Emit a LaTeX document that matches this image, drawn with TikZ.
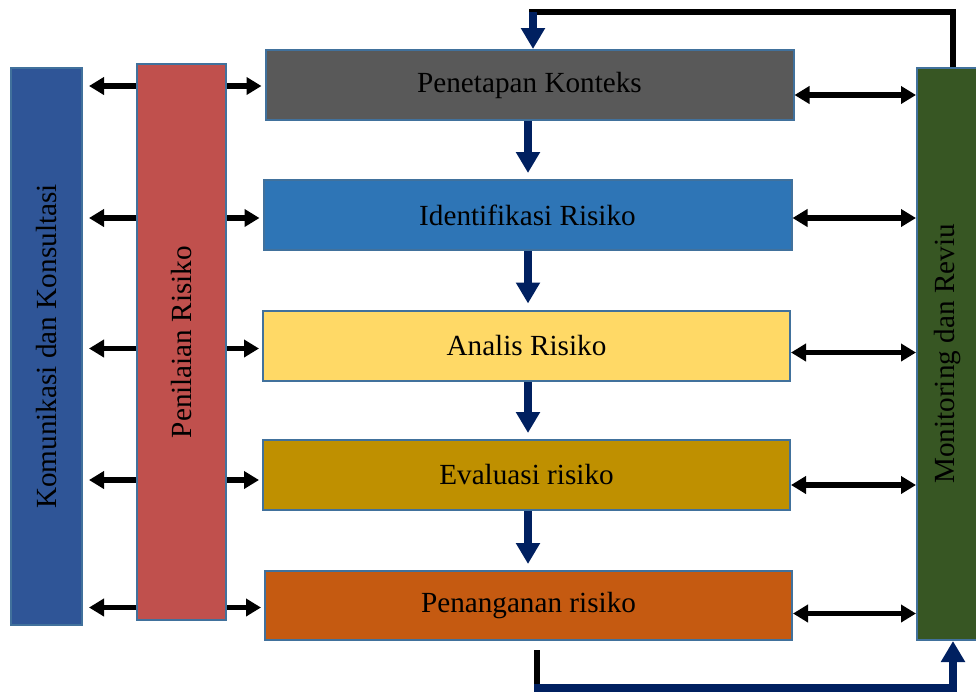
\documentclass[tikz,border=0pt]{standalone}
\usepackage{fontspec}
\setmainfont{Liberation Serif}
\usetikzlibrary{arrows.meta}

\definecolor{komblue}{HTML}{2F5597}
\definecolor{penred}{HTML}{C0504D}
\definecolor{ctxgray}{HTML}{595959}
\definecolor{idfblue}{HTML}{2E75B6}
\definecolor{anayellow}{HTML}{FFD966}
\definecolor{evagold}{HTML}{BF9000}
\definecolor{pnnorange}{HTML}{C55A11}
\definecolor{mongreen}{HTML}{375623}
\definecolor{navy}{HTML}{002060}
\definecolor{edgeblue}{HTML}{41719C}

\tikzset{
  stage/.style={draw=edgeblue, line width=1pt, minimum width=264pt, minimum height=35pt,
    inner sep=0pt, font=\fontsize{14.6}{17}\selectfont},
  pillar/.style={draw=edgeblue, line width=1pt, rotate=90, inner sep=0pt,
    font=\fontsize{14.6}{17}\selectfont},
  twoway/.style={line width=2.8pt, -{Triangle[width=8.5pt,length=7.5pt]}},
  flow/.style={navy, line width=4pt, -{Triangle[width=11.5pt,length=10.5pt]}},
  loopline/.style={line width=3pt}
}

\begin{document}
\begin{tikzpicture}[x=0.5pt,y=-0.5pt]
\useasboundingbox (0,0) rectangle (976,692);

      % side pillars
      \node[pillar, fill=komblue, minimum width=278.5pt, minimum height=35.5pt] (kom) at (46.5,346.5) {Komunikasi dan Konsultasi};
      \node[pillar, fill=penred, minimum width=278pt, minimum height=44.5pt] (pen) at (181.5,342) {Penilaian Risiko};
      \node[pillar, fill=mongreen, minimum width=286pt, minimum height=30.5pt] (mon) at (947.5,354) {Monitoring dan Reviu};

      % process stages
      \node[stage, fill=ctxgray] (ctx) at (529.5,85) {Penetapan Konteks};
      \node[stage, fill=idfblue] (idf) at (527.5,215) {Identifikasi Risiko};
      \node[stage, fill=anayellow, minimum width=263.5pt] (ana) at (526.5,345.5) {Analis Risiko};
      \node[stage, fill=evagold, minimum width=263.5pt] (eva) at (526.5,475) {Evaluasi risiko};
      \node[stage, fill=pnnorange, minimum width=263.5pt, minimum height=34.5pt] (pnn) at (528.5,605.5) {Penanganan risiko};

      % links to the left
      \foreach \s/\dy in {ctx/-1, idf/-3, ana/-3, eva/-5, pnn/-2} {
        \draw[twoway, shorten >=3pt] ([yshift=\dy*0.5pt]pen.north |- \s.west) -- ([yshift=\dy*0.5pt]kom.south |- \s.west);
        \draw[twoway, shorten >=1.5pt] ([yshift=\dy*0.5pt]pen.south |- \s.west) -- ([yshift=\dy*0.5pt]\s.west);
      }

      % links to the right
      \foreach \s/\dy in {ctx/10, idf/3, ana/7, eva/10, pnn/8} {
        \draw[twoway, {Triangle[width=8.5pt,length=7.5pt]}-{Triangle[width=8.5pt,length=7.5pt]}]
          ([yshift=-\dy*0.5pt]\s.east) -- ([yshift=-\dy*0.5pt]mon.north |- \s.east);
      }

      % main flow
      \foreach \a/\b in {ctx/idf, idf/ana, ana/eva, eva/pnn}
        \draw[flow, shorten >=3pt] (\a.south -| 528,0) -- (\b.north -| 528,0);

      % feedback loops
      \coordinate (topR) at (953,12);
      \coordinate (topL) at (533,12);
      \draw[loopline] ([xshift=2.75pt]mon.east) -- (topR) -- ([xshift=-2pt]topL);
      \draw[flow] (topL) -- (topL |- ctx.north);

      \coordinate (botS) at (537,650);
      \coordinate (botL) at (537,688);
      \coordinate (botR) at (953,688);
      \draw[loopline] (botS) -- ([yshift=-2pt]botL);
      \draw[flow] ([xshift=-1.5pt]botL) -- (botR) -- ([xshift=2.75pt]mon.west);

\end{tikzpicture}
\end{document}
